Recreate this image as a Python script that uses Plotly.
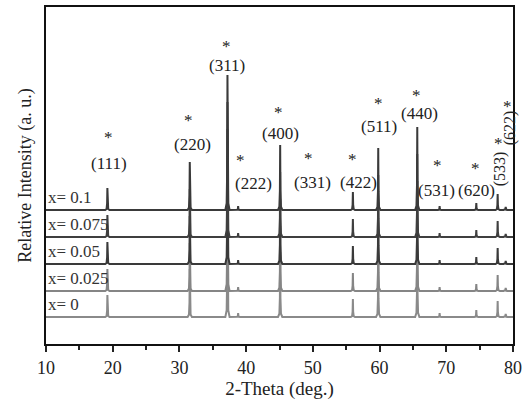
import plotly.graph_objects as go

# ---- data ----
samples = ["x= 0.1", "x= 0.075", "x= 0.05", "x= 0.025", "x= 0"]
sample_offsets = [134, 107, 80, 53, 27]          # stacking offset (a.u.)
sample_colors = ["#3a3a3a", "#3f3f3f", "#3a3a3a", "#858585", "#8a8a8a"]

hkl = ["(111)", "(220)", "(311)", "(222)", "(400)", "(331)", "(422)",
       "(511)", "(440)", "(531)", "(620)", "(533)", "(622)"]
peak_pos = [19.2, 31.55, 37.2, 38.8, 45.1, 49.5, 56.0, 59.8, 65.65, 69.0, 74.5, 77.7, 78.9]
peak_int = [22, 48, 135, 4, 65, 0.5, 18, 62, 83, 4, 7, 16, 3]

x_ticks = [10, 20, 30, 40, 50, 60, 70, 80]

# ---- label placement (x in deg, y in a.u.) ----
star_x = [19.3, 31.4, 37.0, 39.1, 44.9, 49.3, 56.0, 59.8, 65.5, 68.7, 74.4, 77.8, 79.2]
star_y = [207, 224, 298, 184, 232, 186, 185, 241, 249, 179, 176, 201, 238]
lab_x = [19.4, 31.9, 37.2, 41.1, 45.2, 50.0, 56.8, 59.95, 65.95, 68.6, 74.6, 78.1, 79.6]
lab_y = [181, 200, 279, 161, 211, 162, 162, 218, 231, 154, 154, 175, 216]
lab_angle = [0, 0, 0, 0, 0, 0, 0, 0, 0, 0, 0, -90, -90]

FONT = "Liberation Serif, Times New Roman, serif"

# peak shape template
shape_dx = [-0.32, -0.12, -0.04, 0.0, 0.04, 0.12, 0.32]
shape_fr = [0.0, 0.05, 0.3, 1.0, 0.3, 0.05, 0.0]

fig = go.Figure()
for name, off, col in zip(samples, sample_offsets, sample_colors):
    xs, ys = [10.0], [off]
    for p, h in zip(peak_pos, peak_int):
        for dx, fr in zip(shape_dx, shape_fr):
            xs.append(p + dx)
            ys.append(off + h * fr)
    xs.append(80.0)
    ys.append(off)
    fig.add_trace(go.Scatter(x=xs, y=ys, mode="lines", name=name,
                             line=dict(color=col, width=2), showlegend=False,
                             hoverinfo="skip"))
    fig.add_annotation(x=10.0, y=off + 13, text=name, showarrow=False,
                       xanchor="left", yanchor="middle",
                       font=dict(family=FONT, size=17, color="#333333"))

# draw upper traces last so they sit on top
fig.data = fig.data[::-1]

for i, t in enumerate(hkl):
    fig.add_annotation(x=star_x[i], y=star_y[i], text="*", showarrow=False,
                       xanchor="center", yanchor="middle",
                       font=dict(family=FONT, size=17, color="#222222"))
    fig.add_annotation(x=lab_x[i], y=lab_y[i], text=t, showarrow=False,
                       textangle=lab_angle[i], xanchor="center", yanchor="middle",
                       font=dict(family=FONT, size=17 if lab_angle[i] == 0 else 16,
                                 color="#222222"))

fig.update_layout(
    width=525, height=406,
    margin=dict(l=46, r=12, t=7, b=62),
    plot_bgcolor="white", paper_bgcolor="white",
    font=dict(family=FONT, size=18, color="#222222"),
)
fig.update_xaxes(
    range=[10, 80], tickvals=x_ticks, ticktext=[str(v) for v in x_ticks],
    ticks="outside", ticklen=6, tickwidth=1.5, tickcolor="#222222",
    minor=dict(dtick=5, tick0=10, ticks="outside", ticklen=4, tickwidth=1.5, tickcolor="#222222"),
    showline=True, linewidth=2, linecolor="#111111", mirror=True,
    showgrid=False, zeroline=False, automargin=False,
    title=dict(text="2-Theta (deg.)", font=dict(family=FONT, size=19), standoff=2),
    tickfont=dict(family=FONT, size=18),
)
fig.update_yaxes(
    range=[0, 337], showticklabels=False, ticks="",
    showline=True, linewidth=2, linecolor="#111111", mirror=True,
    showgrid=False, zeroline=False, automargin=False,
    title=dict(text="Relative Intensity (a. u.)", font=dict(family=FONT, size=18), standoff=8),
)

fig.write_html("out.html", config={"displayModeBar": False},
               post_script="document.body.style.margin='0';document.body.style.padding='0';")
